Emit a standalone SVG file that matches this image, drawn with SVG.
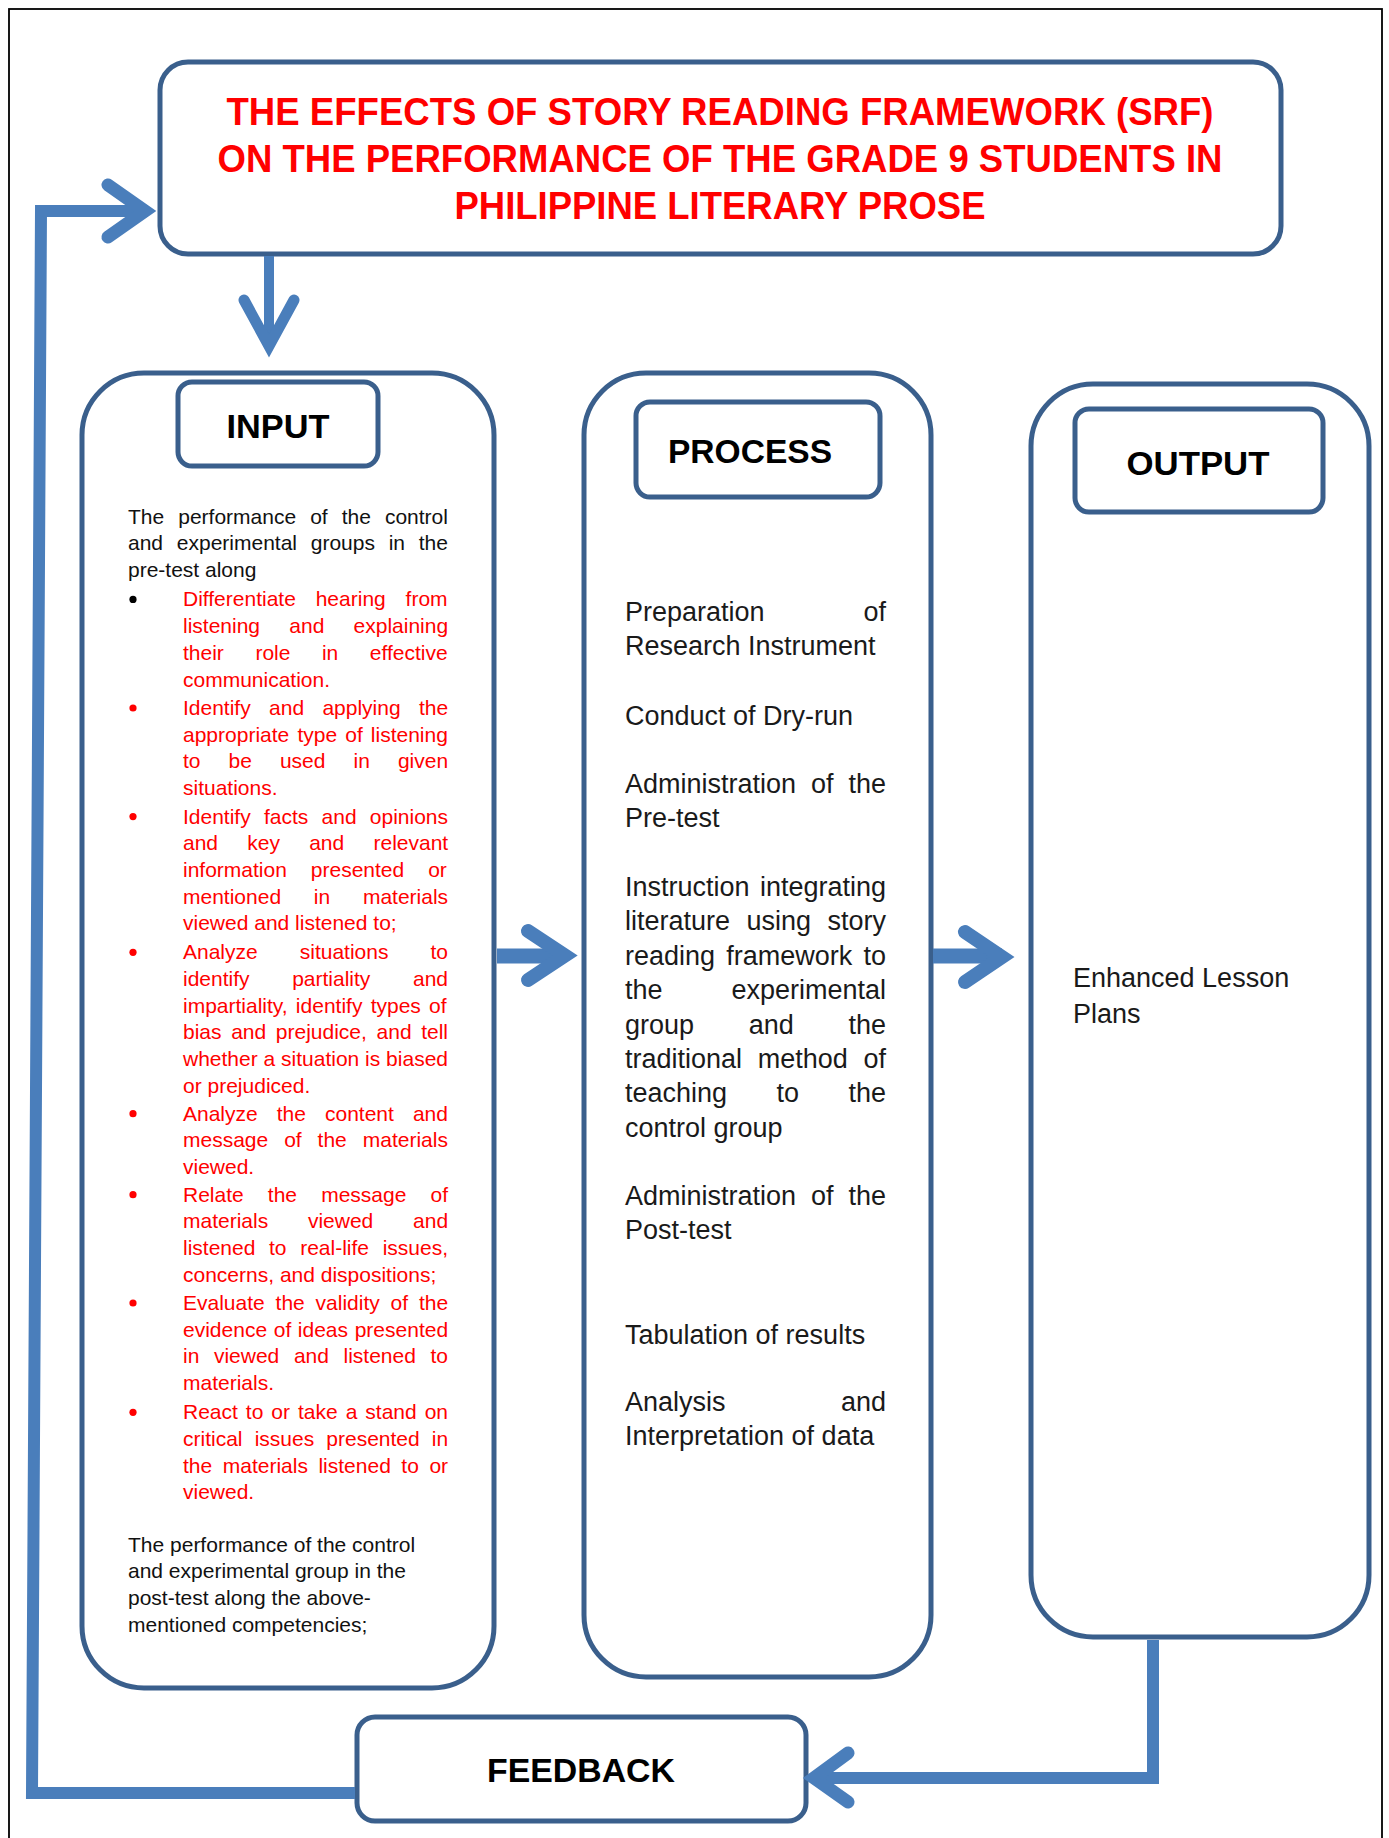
<svg xmlns="http://www.w3.org/2000/svg" width="1389" height="1838" viewBox="0 0 1389 1838">
<style>
.box{fill:#fff;stroke:#3a5f8c;stroke-width:5}
.lbl{font-family:"Liberation Sans",Arial,sans-serif;font-weight:bold;font-size:33px;fill:#000;text-anchor:middle}
.title{font-family:"Liberation Sans",Arial,sans-serif;font-weight:bold;font-size:39px;fill:#ff0000;text-anchor:middle}
.b{font-family:"Liberation Sans",Arial,sans-serif;font-size:21px;fill:#111}
.r{font-family:"Liberation Sans",Arial,sans-serif;font-size:21px;fill:#ff0000}
.p{font-family:"Liberation Sans",Arial,sans-serif;font-size:27px;fill:#1a1a1a}
.conn{fill:none;stroke:#4a7ebb;stroke-linejoin:miter}
.head{fill:none;stroke:#4a7ebb;stroke-linejoin:miter;stroke-linecap:round}
.end{text-anchor:end}
</style>
<rect x="9" y="9" width="1373" height="1860" fill="none" stroke="#000" stroke-width="1.8"/>

<g id="title">
<rect class="box" x="160" y="62" width="1121" height="192" rx="28"/>
<text class="title" x="720" y="125" textLength="987" lengthAdjust="spacingAndGlyphs">THE EFFECTS OF STORY READING FRAMEWORK (SRF)</text>
<text class="title" x="720" y="172" textLength="1005" lengthAdjust="spacingAndGlyphs">ON THE PERFORMANCE OF THE GRADE 9 STUDENTS IN</text>
<text class="title" x="720" y="219" textLength="531" lengthAdjust="spacingAndGlyphs">PHILIPPINE LITERARY PROSE</text>
</g>

<g id="input">
<rect class="box" x="82" y="373" width="412" height="1315" rx="62"/>
<rect class="box" x="178" y="382" width="200" height="84" rx="14"/>
<text class="lbl" x="278" y="438" textLength="103" lengthAdjust="spacingAndGlyphs">INPUT</text>
<text class="b" x="128" y="523.5" style="word-spacing:8.2px">The performance of the control</text>
<text class="b" x="128" y="550" style="word-spacing:7.9px">and experimental groups in the</text>
<text class="b" x="128" y="576.5">pre-test along</text>
<circle cx="133" cy="599.4" r="3.6" fill="#000"/>
<g fill="#ff0000">
<circle cx="133" cy="708" r="3.6"/>
<circle cx="133" cy="816.6" r="3.6"/>
<circle cx="133" cy="952.3" r="3.6"/>
<circle cx="133" cy="1113.7" r="3.6"/>
<circle cx="133" cy="1194.7" r="3.6"/>
<circle cx="133" cy="1303" r="3.6"/>
<circle cx="133" cy="1412.3" r="3.6"/>
</g>
<text class="r" x="183" y="606.4" style="word-spacing:14px">Differentiate hearing from</text>
<text class="r" x="183" y="633.1" style="word-spacing:23.4px">listening and explaining</text>
<text class="r" x="183" y="659.8" style="word-spacing:25.7px">their role in effective</text>
<text class="r" x="183" y="686.5">communication.</text>
<text class="r" x="183" y="715" style="word-spacing:12.5px">Identify and applying the</text>
<text class="r" x="183" y="741.7" style="word-spacing:2.3px">appropriate type of listening</text>
<text class="r" x="183" y="768.4" style="word-spacing:22.2px">to be used in given</text>
<text class="r" x="183" y="795.1">situations.</text>
<text class="r" x="183" y="823.6" style="word-spacing:7.4px">Identify facts and opinions</text>
<text class="r" x="183" y="850.3" style="word-spacing:23.4px">and key and relevant</text>
<text class="r" x="183" y="877" style="word-spacing:18.1px">information presented or</text>
<text class="r" x="183" y="903.7" style="word-spacing:26.9px">mentioned in materials</text>
<text class="r" x="183" y="930.4">viewed and listened to;</text>
<text class="r" x="183" y="959.3" style="word-spacing:36.2px">Analyze situations to</text>
<text class="r" x="183" y="986" style="word-spacing:36.8px">identify partiality and</text>
<text class="r" x="183" y="1012.7" style="word-spacing:2.4px">impartiality, identify types of</text>
<text class="r" x="183" y="1039.4" style="word-spacing:3.8px">bias and prejudice, and tell</text>
<text class="r" x="183" y="1066.1">whether a situation is biased</text>
<text class="r" x="183" y="1092.8">or prejudiced.</text>
<text class="r" x="183" y="1120.7" style="word-spacing:13.2px">Analyze the content and</text>
<text class="r" x="183" y="1147.4" style="word-spacing:10.1px">message of the materials</text>
<text class="r" x="183" y="1174.1">viewed.</text>
<text class="r" x="183" y="1201.7" style="word-spacing:18.3px">Relate the message of</text>
<text class="r" x="183" y="1228.4" style="word-spacing:33.9px">materials viewed and</text>
<text class="r" x="183" y="1255.1" style="word-spacing:7.8px">listened to real-life issues,</text>
<text class="r" x="183" y="1281.8">concerns, and dispositions;</text>
<text class="r" x="183" y="1310" style="word-spacing:5px">Evaluate the validity of the</text>
<text class="r" x="183" y="1336.7" style="word-spacing:0.8px">evidence of ideas presented</text>
<text class="r" x="183" y="1363.4" style="word-spacing:8.75px">in viewed and listened to</text>
<text class="r" x="183" y="1390.1">materials.</text>
<text class="r" x="183" y="1419.3" style="word-spacing:2.15px">React to or take a stand on</text>
<text class="r" x="183" y="1446" style="word-spacing:6.3px">critical issues presented in</text>
<text class="r" x="183" y="1472.7" style="word-spacing:4.7px">the materials listened to or</text>
<text class="r" x="183" y="1499.4">viewed.</text>
<text class="b" x="128" y="1551.7">The performance of the control</text>
<text class="b" x="128" y="1578.4">and experimental group in the</text>
<text class="b" x="128" y="1605.1">post-test along the above-</text>
<text class="b" x="128" y="1631.8">mentioned competencies;</text>
</g>

<g id="process">
<rect class="box" x="584" y="373" width="347" height="1304" rx="62"/>
<rect class="box" x="636" y="402" width="244" height="95" rx="14"/>
<text class="lbl" x="750" y="463" textLength="164" lengthAdjust="spacingAndGlyphs">PROCESS</text>
<text class="p" x="625" y="621">Preparation</text>
<text class="p end" x="886" y="621">of</text>
<text class="p" x="625" y="655">Research Instrument</text>
<text class="p" x="625" y="725">Conduct of Dry-run</text>
<text class="p" x="625" y="793" style="word-spacing:7.5px">Administration of the</text>
<text class="p" x="625" y="827">Pre-test</text>
<text class="p" x="625" y="896" style="word-spacing:2.9px">Instruction integrating</text>
<text class="p" x="625" y="930.4" style="word-spacing:9px">literature using story</text>
<text class="p" x="625" y="964.8" style="word-spacing:3.7px">reading framework to</text>
<text class="p" x="625" y="999.2">the</text>
<text class="p end" x="886" y="999.2">experimental</text>
<text class="p" x="625" y="1033.6" style="word-spacing:47.2px">group and the</text>
<text class="p" x="625" y="1068" style="word-spacing:8.2px">traditional method of</text>
<text class="p" x="625" y="1102.4" style="word-spacing:42px">teaching to the</text>
<text class="p" x="625" y="1136.8">control group</text>
<text class="p" x="625" y="1205" style="word-spacing:7.5px">Administration of the</text>
<text class="p" x="625" y="1239.4">Post-test</text>
<text class="p" x="625" y="1343.5">Tabulation of results</text>
<text class="p" x="625" y="1411">Analysis</text>
<text class="p end" x="886" y="1411">and</text>
<text class="p" x="625" y="1445.4">Interpretation of data</text>
</g>

<g id="output">
<rect class="box" x="1031" y="384" width="338" height="1253" rx="62"/>
<rect class="box" x="1075" y="409" width="248" height="103" rx="14"/>
<text class="lbl" x="1198" y="475" textLength="143" lengthAdjust="spacingAndGlyphs">OUTPUT</text>
<text class="p" x="1073" y="987">Enhanced Lesson</text>
<text class="p" x="1073" y="1022.5">Plans</text>
</g>

<g id="feedback">
<rect class="box" x="357" y="1717" width="449" height="104" rx="18"/>
<text class="lbl" x="581" y="1782" textLength="188" lengthAdjust="spacingAndGlyphs">FEEDBACK</text>
</g>

<g id="connectors">
<path class="conn" stroke-width="10" d="M269,256 L269,344"/>
<path class="head" stroke-width="11" d="M244,300 L269,346 L294,300"/>
<path class="conn" stroke-width="12" d="M355,1793 L32,1793 L41,211 L146,211"/>
<path class="head" stroke-width="13" d="M108,185 L145,211 L108,237"/>
<path class="conn" stroke-width="15" d="M497,956 L565,956"/>
<path class="head" stroke-width="14" d="M528,931 L565,955.5 L528,980"/>
<path class="conn" stroke-width="15" d="M933,956 L1002,956"/>
<path class="head" stroke-width="14" d="M965,932 L1002,957 L965,982"/>
<path class="conn" stroke-width="12" d="M1153,1640 L1153,1778 L815,1778"/>
<path class="head" stroke-width="13" d="M848,1753 L814,1778 L848,1802"/>
</g>
</svg>
